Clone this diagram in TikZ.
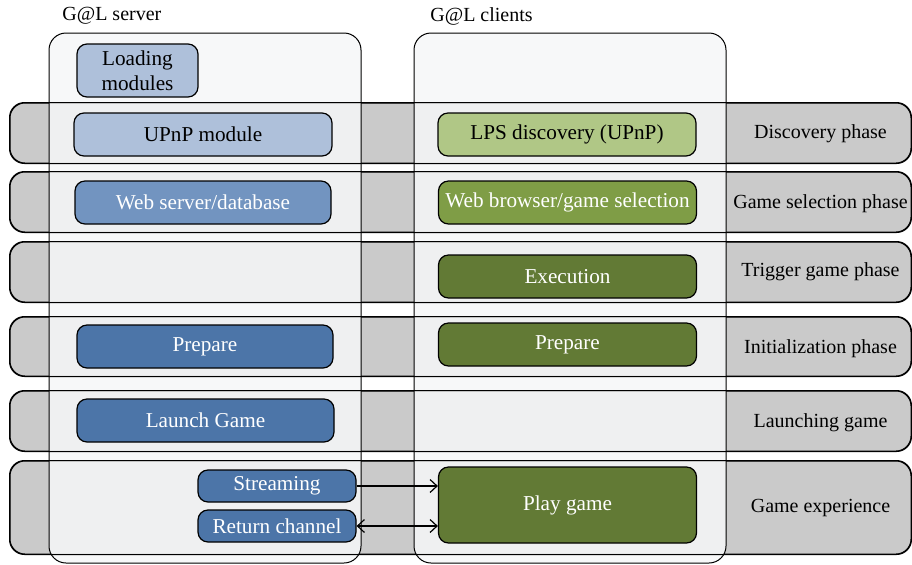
\documentclass[tikz,border=0pt]{standalone}
\usepackage{fontspec}
\setmainfont{Liberation Serif}
\usetikzlibrary{positioning,arrows.meta}
\definecolor{bandgray}{RGB}{202,202,202}
\definecolor{lanefill}{RGB}{246,247,248}
\definecolor{srvpale}{RGB}{174,192,218}
\definecolor{srvmid}{RGB}{114,148,192}
\definecolor{srvdark}{RGB}{76,117,168}
\definecolor{clipale}{RGB}{176,199,134}
\definecolor{climid}{RGB}{127,157,70}
\definecolor{clidark}{RGB}{98,122,53}
\tikzset{band/.style={draw,line width=0.5pt,fill=bandgray,rounded corners=7.5pt,
                      minimum width=450.5pt,inner sep=0pt},
         lane/.style={draw,line width=0.5pt,fill=lanefill,fill opacity=0.86,
                      rounded corners=8.5pt,minimum width=156pt,minimum height=265pt},
         box/.style={draw,line width=0.6pt,rounded corners=5pt,minimum height=21.5pt,
                     minimum width=129pt,inner sep=1pt,align=center,
                     font=\fontsize{10.6}{12.5}\selectfont},
         pale/.style={box,text=black},
         deep/.style={box,text=white},
         phase/.style={inner sep=0pt},
         flow/.style={line width=0.6pt,arrows={-Straight Barb[length=3.5pt,width=6.5pt]}},
         }

\begin{document}
\begin{tikzpicture}[x=0.5pt,y=-0.5pt]
\useasboundingbox (0,0) rectangle (912,564);
% phases
\node[band,minimum height=30pt] (b1) at (460.5,133) {};
\node[band,minimum height=30pt] (b2) at (460.5,202) {};
\node[band,minimum height=30pt] (b3) at (460.5,272) {};
\node[band,minimum height=29.5pt] (b4) at (460.5,346.5) {};
\node[band,minimum height=30pt] (b5) at (460.5,421) {};
\node[band,minimum height=46.5pt] (b6) at (460.5,507.5) {};
% the two sides
\node[lane] (server) at (205,298) {};
\node[lane] (clients) at (570,298) {};
\foreach \b in {b1,b2,b3,b4,b5,b6}
  \draw[line width=0.5pt,rounded corners=7.5pt] (\b.south west) rectangle (\b.north east);
\node[anchor=west,inner sep=0pt] (srvtitle) at (62,16) {G@L server};
\node[anchor=west,inner sep=0pt] (clititle) at (430,16) {G@L clients};
\node[phase] (p1) at (820.5,134) {Discovery phase};
\node[phase] (p2) at (820.5,204) {Game selection phase};
\node[phase] (p3) at (820.5,272) {Trigger game phase};
\node[phase] (p4) at (820.5,349) {Initialization phase};
\node[phase] (p5) at (820.5,423) {Launching game};
\node[phase] (p6) at (820.5,508) {Game experience};
% server side
\node[pale,fill=srvpale,minimum width=60.5pt,minimum height=26.5pt] (loading) at (137.5,70.5) {Loading\\modules};
\node[pale,fill=srvpale] (upnp) at (203,134.5) {UPnP module};
\node[deep,fill=srvmid,minimum width=128pt] (websrv) at (203,202.5) {Web server/database};
\node[deep,fill=srvdark,minimum width=128pt] (prepsrv) at (205,346.5) {Prepare};
\node[deep,fill=srvdark,minimum width=128.5pt] (launch) at (205.5,420.5) {Launch Game};
\node[deep,fill=srvdark,minimum width=79pt,minimum height=16pt] (stream) at (277,486) {Streaming};
\node[deep,fill=srvdark,minimum width=79pt,minimum height=16pt] (retchan) at (277,526) {Return channel};
% client side
\node[pale,fill=clipale] (lps) at (567,134.5) {LPS discovery (UPnP)};
\node[deep,fill=climid] (browser) at (567.5,202.5) {Web browser/game selection};
\node[deep,fill=clidark] (exec) at (567.5,276.5) {Execution};
\node[deep,fill=clidark] (prepcli) at (567.5,344.5) {Prepare};
\node[deep,fill=clidark,minimum height=38pt] (play) at (567.5,505) {Play game};
\draw[flow] (stream.east) -- (stream.east -| play.west);
\draw[flow,arrows={Straight Barb[length=3.5pt,width=6.5pt]-Straight Barb[length=3.5pt,width=6.5pt]}] (retchan.east) -- (retchan.east -| play.west);
\end{tikzpicture}
\end{document}
